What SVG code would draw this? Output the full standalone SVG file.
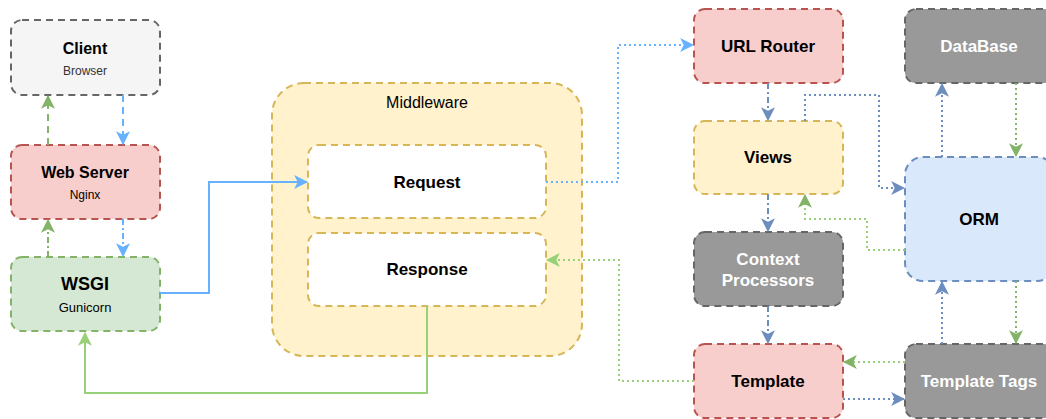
<svg xmlns="http://www.w3.org/2000/svg" width="1046" height="419" viewBox="0 0 1046 419">
<defs>
<style>
.n{stroke-width:2;stroke-dasharray:7 5}
.t{font-family:"Liberation Sans",Arial,sans-serif;text-anchor:middle;dominant-baseline:central}
.b{font-weight:bold;font-size:17px;fill:#000}
.w{font-weight:bold;font-size:17px;fill:#fff}
.s{font-size:12px;fill:#333}
.c{fill:none;stroke-width:2}
.dash{stroke-dasharray:7 5}
.dot{stroke-dasharray:2 3}
.dd{stroke-dasharray:6 3 2 3}
</style>
<marker id="aB" markerUnits="userSpaceOnUse" markerWidth="14" markerHeight="14" viewBox="0 0 12 12" refX="11" refY="6" orient="auto"><path d="M0,0 L12,6 L0,12 L3,6 z" fill="#66b2ff"/></marker>
<marker id="aD" markerUnits="userSpaceOnUse" markerWidth="14" markerHeight="14" viewBox="0 0 12 12" refX="11" refY="6" orient="auto"><path d="M0,0 L12,6 L0,12 L3,6 z" fill="#6c8ebf"/></marker>
<marker id="aG" markerUnits="userSpaceOnUse" markerWidth="14" markerHeight="14" viewBox="0 0 12 12" refX="11" refY="6" orient="auto"><path d="M0,0 L12,6 L0,12 L3,6 z" fill="#82b366"/></marker>
<marker id="aL" markerUnits="userSpaceOnUse" markerWidth="14" markerHeight="14" viewBox="0 0 12 12" refX="11" refY="6" orient="auto"><path d="M0,0 L12,6 L0,12 L3,6 z" fill="#97d077"/></marker>
</defs>
<rect width="1046" height="419" fill="#fff"/>

<g id="middleware">
<rect x="272" y="83" width="310" height="273" rx="32" fill="#fff2cc" stroke="#d6b656" class="n"/>
<text class="t" x="427" y="102" font-size="16" fill="#000">Middleware</text>
</g>
<g id="request">
<rect x="308" y="145" width="238" height="73" rx="11" fill="#fff" stroke="#d6b656" class="n"/>
<text class="t b" x="427" y="182">Request</text>
</g>
<g id="response">
<rect x="308" y="233" width="238" height="73" rx="11" fill="#fff" stroke="#d6b656" class="n"/>
<text class="t b" x="427" y="269">Response</text>
</g>

<g id="client">
<rect x="11" y="20" width="149" height="75" rx="11" fill="#f5f5f5" stroke="#666666" class="n"/>
<text class="t b" x="85" y="48" style="font-size:16px">Client</text>
<text class="t s" x="85" y="71">Browser</text>
</g>
<g id="webserver">
<rect x="11" y="145" width="149" height="74" rx="11" fill="#f8cecc" stroke="#b85450" class="n"/>
<text class="t b" x="85" y="172" style="font-size:16px">Web Server</text>
<text class="t s" x="85" y="195" style="fill:#000">Nginx</text>
</g>
<g id="wsgi">
<rect x="11" y="257" width="149" height="74" rx="11" fill="#d5e8d4" stroke="#82b366" class="n"/>
<text class="t b" x="85" y="284" style="font-size:18px">WSGI</text>
<text class="t s" x="85" y="307" style="fill:#000;font-size:13px">Gunicorn</text>
</g>

<g id="urlrouter">
<rect x="694" y="9" width="149" height="74" rx="11" fill="#f8cecc" stroke="#b85450" class="n"/>
<text class="t b" x="768" y="46">URL Router</text>
</g>
<g id="views">
<rect x="694" y="121" width="149" height="73" rx="11" fill="#fff2cc" stroke="#d6b656" class="n"/>
<text class="t b" x="768" y="157">Views</text>
</g>
<g id="contextprocessors">
<rect x="694" y="232" width="149" height="74" rx="11" fill="#999999" stroke="#666666" class="n"/>
<text class="t w" x="768" y="259">Context</text>
<text class="t w" x="768" y="280">Processors</text>
</g>
<g id="template">
<rect x="694" y="344" width="149" height="74" rx="11" fill="#f8cecc" stroke="#b85450" class="n"/>
<text class="t b" x="768" y="381">Template</text>
</g>
<g id="database">
<rect x="905" y="9" width="150" height="74" rx="11" fill="#999999" stroke="#666666" class="n"/>
<text class="t w" x="979" y="46">DataBase</text>
</g>
<g id="orm">
<rect x="905" y="157" width="150" height="124" rx="18" fill="#dae8fc" stroke="#6c8ebf" class="n"/>
<text class="t b" x="979" y="219">ORM</text>
</g>
<g id="templatetags">
<rect x="905" y="344" width="150" height="74" rx="11" fill="#999999" stroke="#666666" class="n"/>
<text class="t w" x="979" y="381">Template Tags</text>
</g>

<g id="connectors">
<path class="c dash" stroke="#82b366" d="M48,145 V96" marker-end="url(#aG)"/>
<path class="c dash" stroke="#66b2ff" d="M123,95 V144" marker-end="url(#aB)"/>
<path class="c dd" stroke="#82b366" d="M48,257 V220" marker-end="url(#aG)"/>
<path class="c dd" stroke="#66b2ff" d="M123,219 V256" marker-end="url(#aB)"/>
<path class="c" stroke="#66b2ff" d="M160,293 H209 V182 H307" marker-end="url(#aB)"/>
<path class="c" stroke="#97d077" d="M427,306 V393 H85 V333" marker-end="url(#aL)"/>
<path class="c dot" stroke="#66b2ff" d="M546,182 H618 V45 H693" marker-end="url(#aB)"/>
<path class="c dd" stroke="#6c8ebf" d="M768,83 V120" marker-end="url(#aD)"/>
<path class="c dot" stroke="#6c8ebf" d="M805,121 V95 H879 V188 H904" marker-end="url(#aD)"/>
<path class="c dot" stroke="#6c8ebf" d="M942,157 V84" marker-end="url(#aD)"/>
<path class="c dot" stroke="#82b366" d="M1016,83 V156" marker-end="url(#aG)"/>
<path class="c dd" stroke="#6c8ebf" d="M768,194 V231" marker-end="url(#aD)"/>
<path class="c dot" stroke="#97d077" d="M905,250 H867 V219 H805 V195" marker-end="url(#aG)"/>
<path class="c dd" stroke="#6c8ebf" d="M768,306 V343" marker-end="url(#aD)"/>
<path class="c dot" stroke="#6c8ebf" d="M942,344 V282" marker-end="url(#aD)"/>
<path class="c dot" stroke="#82b366" d="M1016,281 V343" marker-end="url(#aG)"/>
<path class="c dot" stroke="#97d077" d="M905,362 H844" marker-end="url(#aG)"/>
<path class="c dot" stroke="#6c8ebf" d="M843,399 H904" marker-end="url(#aD)"/>
<path class="c dot" stroke="#97d077" d="M694,381 H619 V260 H547" marker-end="url(#aL)"/>
</g>
</svg>
